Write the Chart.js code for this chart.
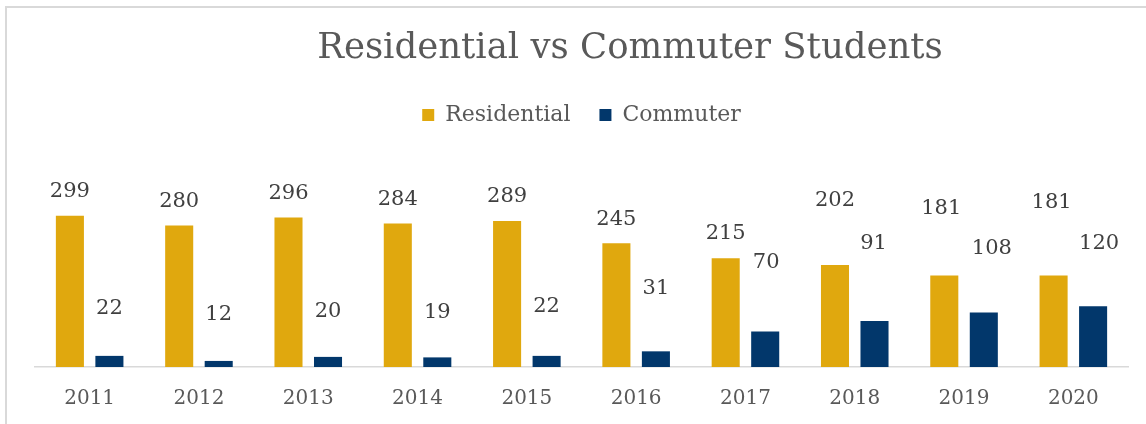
<!DOCTYPE html>
<html>
<head>
<meta charset="utf-8">
<script src="https://cdn.jsdelivr.net/npm/chart.js@4"></script>
<style>
  html, body { margin: 0; padding: 0; background: #fff; overflow: hidden; }
  #frame { position: absolute; left: 5px; top: 6px; width: 1300px; height: 600px;
           border-left: 2px solid #d9d9d9; border-top: 2px solid #d9d9d9; box-sizing: border-box; }
  #wrap { position: absolute; left: 0; top: 0; width: 1146px; height: 424px; }
</style>
</head>
<body>
<div id="frame"></div>
<div id="wrap"><canvas id="c" width="1146" height="424"></canvas></div>
<script>
const years = ['2011','2012','2013','2014','2015','2016','2017','2018','2019','2020'];
const residential = [299, 280, 296, 284, 289, 245, 215, 202, 181, 181];
const commuter = [22, 12, 20, 19, 22, 31, 70, 91, 108, 120];

// data-label offsets (px, relative to bar top) as placed in the original
const resLabelDx = [0, 0, 0, 0, 0, 0, 0, 0, -3, -2];
const resLabelDy = [-24, -24, -24, -24, -24, -24, -25, -64, -67, -73];
const comLabelDx = [0, 0, 0, 0, 0, 0, 1, -1, 8, 6];
const comLabelDy = [-47, -46, -45, -45, -49, -63, -69, -77, -64, -63];

const FONT = '"DejaVu Serif", serif';

const labelPlugin = {
  id: 'valueLabels',
  afterDatasetsDraw(chart) {
    const ctx = chart.ctx;
    const offs = [[resLabelDx, resLabelDy], [comLabelDx, comLabelDy]];
    ctx.save();
    ctx.font = '21px ' + FONT;
    ctx.fillStyle = '#404040';
    ctx.textAlign = 'center';
    ctx.textBaseline = 'middle';
    chart.data.datasets.forEach((ds, di) => {
      const meta = chart.getDatasetMeta(di);
      meta.data.forEach((bar, i) => {
        ctx.fillText(String(ds.data[i]), bar.x + offs[di][0][i], bar.y + offs[di][1][i]);
      });
    });
    ctx.restore();
  }
};

const titlePlugin = {
  id: 'customTitle',
  afterDraw(chart) {
    const ctx = chart.ctx;
    ctx.save();
    ctx.font = '35.5px ' + FONT;
    ctx.fillStyle = '#595959';
    ctx.textAlign = 'center';
    ctx.textBaseline = 'middle';
    ctx.fillText('Residential vs Commuter Students', 630, 49);
    ctx.restore();
  }
};

new Chart(document.getElementById('c'), {
  type: 'bar',
  data: {
    labels: years,
    datasets: [
      { label: 'Residential', data: residential, backgroundColor: '#E0A80E',
        categoryPercentage: 0.723, barPercentage: 0.71 },
      { label: 'Commuter', data: commuter, backgroundColor: '#02376B',
        categoryPercentage: 0.723, barPercentage: 0.71 }
    ]
  },
  options: {
    responsive: false,
    animation: false,
    devicePixelRatio: 1,
    layout: { padding: { left: 35, right: 18, top: 75, bottom: -7 } },
    plugins: {
      title: { display: false },
      tooltip: { enabled: false },
      legend: {
        display: true,
        position: 'top',
        labels: {
          boxWidth: 12, boxHeight: 12, padding: 29,
          color: '#595959',
          font: { family: FONT, size: 22 }
        }
      }
    },
    scales: {
      x: {
        grid: { display: false, drawTicks: false },
        border: { display: true, color: '#d9d9d9', width: 1.5 },
        ticks: { color: '#595959', padding: 20, font: { family: FONT, size: 20 } }
      },
      y: {
        display: false,
        min: 0,
        max: 457
      }
    }
  },
  plugins: [labelPlugin, titlePlugin]
});
</script>
</body>
</html>
